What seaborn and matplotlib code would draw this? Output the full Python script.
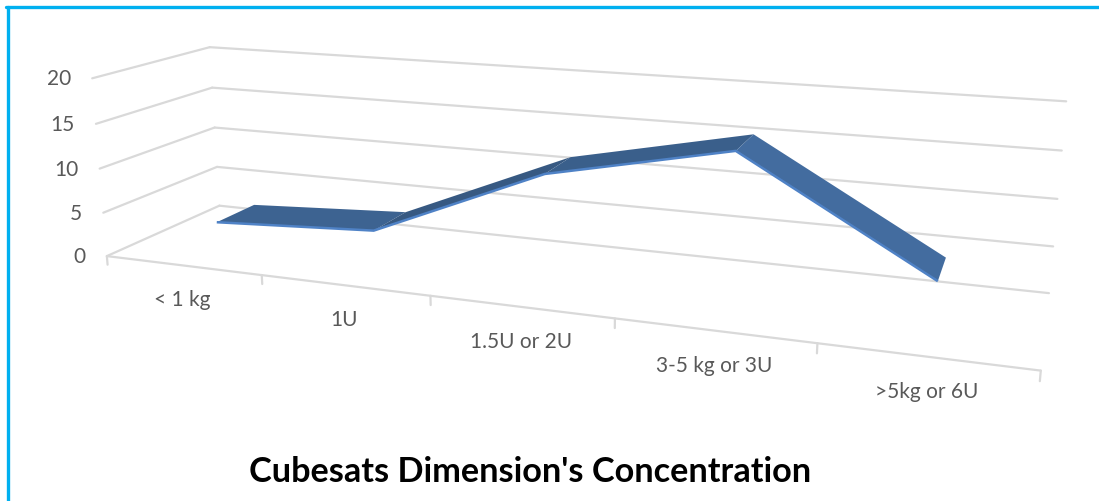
import matplotlib
matplotlib.use("Agg")
import numpy as np
import pandas as pd
import seaborn as sns
import matplotlib.pyplot as plt
from matplotlib.lines import Line2D
from matplotlib.colors import to_rgba
from matplotlib.transforms import offset_copy
from mpl_toolkits.mplot3d import proj3d

# Chart data
categories = ["< 1 kg", "1U", "1.5U or 2U", "3-5 kg or 3U", ">5kg or 6U"]
counts = [3, 4, 12, 16, 5]
value_ticks = [0, 5, 10, 15, 20]
title = "Cubesats Dimension's Concentration"

sns.set_theme(style="white")
plt.rcParams["font.family"] = ["Lato", "DejaVu Sans"]

df = pd.DataFrame({"category": categories, "count": counts})
df["pos"] = np.arange(len(df))

ribbon_color = "#436DA0"
edge_color = "#4F82C6"
grid_color = "#D9D9D9"
text_color = "#595959"

n = len(categories)
x_lo, x_hi = -0.5, n - 0.5
z_lo, z_hi = 0, 20
box = (0.651, 0.148, 0.132)
ribbon_depth = (0.31, 0.66)

fig = plt.figure(figsize=(10.99, 5.02), dpi=100)
# a large square 3-D panel so that the perspective box fills the width
ax = fig.add_axes([-0.0048, -0.4910, 1.0, 2.1892], projection="3d",
                  computed_zorder=False)
ax.patch.set_alpha(0)
ax.set_proj_type("persp", focal_length=0.242)
ax.view_init(elev=14.5, azim=-70)
ax.set_box_aspect(box, zoom=0.8678)
ax.set_xlim(x_lo, x_hi)
ax.set_ylim(0, 1)
ax.set_zlim(z_lo, z_hi)
ax.set_axis_off()

grid_kw = dict(color=grid_color, lw=1.6, zorder=1)
for t in value_ticks:
    ax.plot([x_lo, x_lo], [0, 1], [t, t], **grid_kw)      # side wall
    ax.plot([x_lo, x_hi], [1, 1], [t, t], **grid_kw)      # back wall

# front edge of the floor with separators between categories
ax.plot([x_lo, x_hi], [0, 0], [0, 0], **grid_kw)
for b in np.arange(x_lo, x_hi + 0.01, 1.0):
    ax.plot([b, b], [0, 0], [0, -1.0], **grid_kw)

# ribbon faces lit from the right: shade each segment by its slope in the box
seg_dx = box[0] / (x_hi - x_lo) * np.diff(df["pos"])
seg_dz = box[2] / (z_hi - z_lo) * np.diff(df["count"])
theta = np.arctan2(seg_dz, seg_dx)
normals = np.column_stack([-np.sin(theta), np.cos(theta)])
alt = np.radians(50)
light = np.array([np.cos(alt), np.sin(alt)])
factor = 0.65 + 0.35 * normals @ light
base = np.array(to_rgba(ribbon_color))
face_rgba = np.tile(base, (2, n, 1))
face_rgba[0, :-1, :3] = np.clip(base[:3] * factor[:, None], 0, 1)

X, Y = np.meshgrid(df["pos"], ribbon_depth)
Z = np.vstack([df["count"], df["count"]])
ax.plot_surface(X, Y, Z, facecolors=face_rgba, shade=False, linewidth=0,
                antialiased=True, rstride=1, cstride=1, zorder=3)
ax.plot(df["pos"], [ribbon_depth[0]] * n, df["count"], color=edge_color,
        lw=1.8, solid_capstyle="butt", zorder=4)

# tick labels placed at the projected positions of their anchor points
M = ax.get_proj()
vx, vy, _ = proj3d.proj_transform(np.full(len(value_ticks), x_lo),
                                  np.zeros(len(value_ticks)),
                                  np.array(value_ticks, dtype=float), M)
left_tf = offset_copy(ax.transData, fig=fig, x=-21, y=0, units="dots")
for px, py, t in zip(vx, vy, value_ticks):
    ax.text2D(px, py, str(t), transform=left_tf, ha="right", va="center",
              color=text_color, fontsize=15)

cx, cy, _ = proj3d.proj_transform(df["pos"].to_numpy(float), np.zeros(n),
                                  np.zeros(n), M)
below_tf = offset_copy(ax.transData, fig=fig, x=0, y=-34, units="dots")
for px, py, cat in zip(cx, cy, df["category"]):
    ax.text2D(px, py, cat, transform=below_tf, ha="center", va="center",
              color=text_color, fontsize=15)

fig.text(0.482, 0.060, title, ha="center", va="center", fontsize=24.7,
         fontweight="bold", color="black")

# frame lines along the top and left of the figure
fig.add_artist(Line2D([6 / 1099, 1], [1 - 8 / 502, 1 - 8 / 502],
                      transform=fig.transFigure, color="#00B0F0", lw=2.4))
fig.add_artist(Line2D([8 / 1099, 8 / 1099], [0, 1 - 8 / 502],
                      transform=fig.transFigure, color="#00B0F0", lw=2.4))

fig.savefig("out.png", dpi=100)
